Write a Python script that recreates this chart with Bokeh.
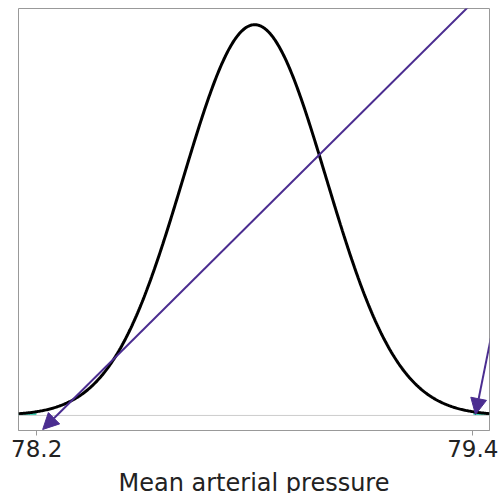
import numpy as np
from bokeh.plotting import figure
from bokeh.models import Range1d, Arrow, NormalHead, Span, FixedTicker
from bokeh.embed import file_html
from bokeh.resources import INLINE

# distribution parameters
mean_value = 78.8
sd_value = 0.197
ci_lower = 78.2
ci_upper = 79.4
tick_values = [78.2, 79.4]
tick_labels = ["78.2", "79.4"]
axis_title = "Mean arterial pressure"

x_lo, x_hi = 78.15, 79.446
y_lo, y_hi = -0.078, 2.109

xs = np.linspace(x_lo, x_hi, 500)
dens = np.exp(-0.5 * ((xs - mean_value) / sd_value) ** 2) / (sd_value * np.sqrt(2 * np.pi))

p = figure(width=502, height=499, output_backend="svg", toolbar_location=None,
           x_range=Range1d(x_lo, x_hi), y_range=Range1d(y_lo, y_hi),
           min_border_left=18, min_border_right=13, min_border_top=8, min_border_bottom=0)
p.background_fill_color = "white"
p.border_fill_color = "white"
p.outline_line_color = "#999999"
p.outline_line_width = 1
p.xgrid.visible = False
p.ygrid.visible = False
p.yaxis.visible = False

ax = p.xaxis[0]
ax.ticker = FixedTicker(ticks=tick_values)
ax.major_label_overrides = {v: s for v, s in zip(tick_values, tick_labels)}
ax.axis_line_color = "#999999"
ax.major_tick_line_color = "#999999"
ax.major_tick_in = 0
ax.major_tick_out = 5
ax.minor_tick_line_color = None
ax.major_label_text_font = "DejaVu Sans"
ax.major_label_text_font_size = "23px"
ax.major_label_text_color = "#222222"
ax.major_label_standoff = 4
ax.axis_label = axis_title
ax.axis_label_text_font = "DejaVu Sans"
ax.axis_label_text_font_size = "24px"
ax.axis_label_text_font_style = "normal"
ax.axis_label_text_color = "#222222"
ax.axis_label_standoff = 9

p.add_layout(Span(location=0, dimension="width", line_color="#cccccc", line_width=1))

left = xs <= ci_lower
right = xs >= ci_upper
p.varea(x=xs[left], y1=np.zeros(left.sum()), y2=dens[left], fill_color="#3DD1B4")
p.varea(x=xs[right], y1=np.zeros(right.sum()), y2=dens[right], fill_color="#3DD1B4")

p.line(xs, dens, line_color="black", line_width=3)

arrow_color = "#4B2D90"
p.add_layout(Arrow(x_start=79.476, y_start=2.283, x_end=78.2165, y_end=-0.0728,
                   line_color=arrow_color, line_width=2,
                   end=NormalHead(size=16, fill_color=arrow_color, line_color=arrow_color)))
p.add_layout(Arrow(x_start=79.531, y_start=1.165, x_end=79.4075, y_end=0.005,
                   line_color=arrow_color, line_width=2,
                   end=NormalHead(size=16, fill_color=arrow_color, line_color=arrow_color)))

open("out.html", "w").write(file_html(p, INLINE))
